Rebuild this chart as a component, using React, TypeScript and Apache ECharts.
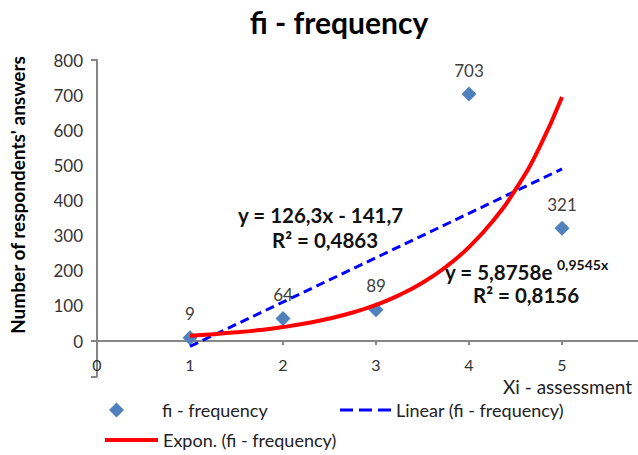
import React, { useEffect, useRef } from "react";
import * as echarts from "echarts";

const xValues = [1, 2, 3, 4, 5];
const frequency = [9, 64, 89, 703, 321];
const linearX = [1, 5];
const linearY = [-15.4, 489.8];
const expX = [1, 1.25, 1.5, 1.75, 2, 2.25, 2.5, 2.75, 3, 3.25, 3.5, 3.75, 4, 4.25, 4.5, 4.75, 5];
const expY = [15.26, 19.38, 24.6, 31.23, 39.64, 50.32, 63.89, 81.1, 102.96, 130.71, 165.93, 210.65, 267.43, 339.5, 430.99, 547.15, 694.6];
const xTickLabels = [0, 1, 2, 3, 4, 5];

const titleText = "fi - frequency";
const yName = "Number of respondents' answers";
const xName = "Xi - assessment";
const scatterName = "fi - frequency";
const linearName = "Linear (fi - frequency)";
const expName = "Expon. (fi - frequency)";

export default function App() {
  const ref = useRef<HTMLDivElement>(null);
  useEffect(() => {
    const chart = echarts.init(ref.current!, null, { renderer: "svg" });
    const ff = "Lato, 'Open Sans', sans-serif";
    const axisColor = "#868686";
    const eq = { fontFamily: ff, fontWeight: "bold", fontSize: 20.5, fill: "#111" } as any;
    const legText = { fontFamily: ff, fontSize: 18, color: "#222" };
    const axisStroke = { stroke: axisColor, lineWidth: 2 };
    chart.setOption({
      animation: false,
      backgroundColor: "#ffffff",
      title: {
        text: titleText,
        left: 334,
        top: 2,
        textAlign: "center",
        textStyle: { fontFamily: ff, fontWeight: "bold", fontSize: 30, color: "#000" },
      },
      grid: { left: 97, top: 60, width: 558, height: 281, outerBoundsMode: "none", containLabel: false },
      xAxis: {
        type: "value",
        min: 0,
        max: 6,
        interval: 1,
        axisLine: { show: true, onZero: false, lineStyle: { color: axisColor, width: 2 } },
        axisTick: { show: true, length: 4, lineStyle: { color: axisColor, width: 2 } },
        axisLabel: {
          margin: 15,
          fontSize: 16,
          color: "#333",
          fontFamily: ff,
          formatter: (v: number) => (xTickLabels.indexOf(v) >= 0 ? String(v) : ""),
        },
        splitLine: { show: false },
      },
      yAxis: {
        type: "value",
        min: 0,
        max: 800,
        interval: 100,
        axisLine: { show: true, onZero: false, lineStyle: { color: axisColor, width: 2 } },
        axisTick: { show: false },
        axisLabel: { margin: 14, fontSize: 17, color: "#333", fontFamily: ff },
        splitLine: { show: false },
      },
      legend: [
        {
          data: [{ name: scatterName, icon: "diamond" }],
          left: 104,
          top: 396,
          itemWidth: 15,
          itemHeight: 15,
          selectedMode: false,
          textStyle: { ...legText, padding: [0, 0, 0, 33] },
        },
        {
          data: [{ name: linearName, icon: "path://M0,0H13V3H0Z M19,0H32V3H19Z M38,0H51V3H38Z" }],
          left: 335,
          top: 396,
          itemWidth: 51,
          itemHeight: 3,
          selectedMode: false,
          textStyle: legText,
        },
        {
          data: [{ name: expName, icon: "rect" }],
          left: 100,
          top: 426,
          itemWidth: 53,
          itemHeight: 4,
          selectedMode: false,
          textStyle: legText,
        },
      ],
      series: [
        {
          name: scatterName,
          type: "scatter",
          data: xValues.map((x, i) => [x, frequency[i]]),
          symbol: "diamond",
          symbolSize: 15,
          itemStyle: { color: "#4f81bd", opacity: 1 },
          label: {
            show: true,
            position: "top",
            distance: 8,
            fontSize: 17,
            color: "#404040",
            fontFamily: ff,
            formatter: (p: any) => String(p.value[1]),
          },
          z: 2,
        },
        {
          name: linearName,
          type: "line",
          data: linearX.map((x, i) => [x, linearY[i]]),
          symbol: "none",
          showSymbol: false,
          clip: false,
          lineStyle: { color: "#0000ff", width: 3, type: [9, 5] },
          itemStyle: { color: "#0000ff" },
          z: 3,
        },
        {
          name: expName,
          type: "line",
          data: expX.map((x, i) => [x, expY[i]]),
          smooth: true,
          symbol: "none",
          showSymbol: false,
          lineStyle: { color: "#ff0000", width: 4 },
          itemStyle: { color: "#ff0000" },
          z: 4,
        },
      ],
      graphic: [
        { type: "line", shape: { x1: 97, y1: 341, x2: 97, y2: 377 }, style: axisStroke },
        { type: "line", shape: { x1: 91, y1: 377, x2: 97, y2: 377 }, style: axisStroke },
        { type: "line", shape: { x1: 91, y1: 60, x2: 97, y2: 60 }, style: axisStroke },
        { type: "line", shape: { x1: 91, y1: 341, x2: 97, y2: 341 }, style: axisStroke },
        {
          type: "text",
          x: 17,
          y: 195,
          rotation: Math.PI / 2,
          style: { text: yName, fontFamily: ff, fontWeight: "bold", fontSize: 19, fill: "#000", align: "center", verticalAlign: "middle" },
        },
        {
          type: "text",
          x: 503,
          y: 386,
          style: { text: xName, fontFamily: ff, fontSize: 19, fill: "#222", align: "left", verticalAlign: "middle" },
        },
        { type: "text", x: 238, y: 215, z: 10, style: { ...eq, text: "y = 126,3x - 141,7", align: "left", verticalAlign: "middle" } },
        { type: "text", x: 272, y: 240, z: 10, style: { ...eq, text: "R² = 0,4863", align: "left", verticalAlign: "middle" } },
        { type: "text", x: 445, y: 272, z: 10, style: { ...eq, text: "y = 5,8758e", align: "left", verticalAlign: "middle" } },
        { type: "text", x: 557, y: 264, z: 10, style: { ...eq, fontSize: 14, text: "0,9545x", align: "left", verticalAlign: "middle" } },
        { type: "text", x: 473, y: 295, z: 10, style: { ...eq, text: "R² = 0,8156", align: "left", verticalAlign: "middle" } },
      ],
    });
    return () => chart.dispose();
  }, []);
  return (
    <div
      ref={ref}
      style={{ position: "fixed", left: 0, top: 0, width: 638, height: 455, background: "#fff" }}
    />
  );
}
